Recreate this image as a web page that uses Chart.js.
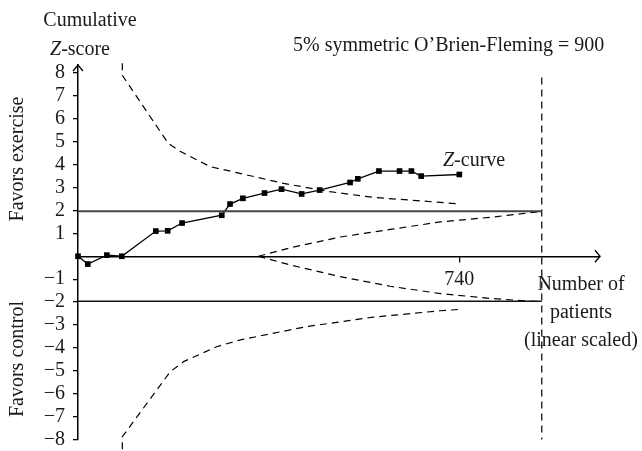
<!DOCTYPE html>
<html><head><meta charset="utf-8">
<script src="https://cdn.jsdelivr.net/npm/chart.js@4/dist/chart.umd.min.js"></script>
<style>html,body{margin:0;padding:0;background:#fff}#wrap{width:642px;height:451px}</style>
</head><body><div id="wrap"><canvas id="c" width="642" height="451"></canvas></div>
<script>
// Cumulative Z-curve (number of patients, cumulative Z-score)
const curvePatients = [0, 19, 56, 85, 151, 174, 202, 279, 295, 320, 362, 395, 434, 469, 528, 543, 584, 624, 647, 666, 740];
const curveZ = [0, -0.34, 0.05, 0.0, 1.10, 1.11, 1.45, 1.79, 2.28, 2.53, 2.76, 2.93, 2.72, 2.89, 3.22, 3.38, 3.72, 3.72, 3.72, 3.50, 3.57];
// O'Brien-Fleming monitoring boundaries
const upperBoundN = [86, 86, 175, 198, 257, 320, 399, 489, 573, 658, 742];
const upperBoundZ = [8.43, 7.9, 4.93, 4.58, 3.91, 3.59, 3.18, 2.82, 2.57, 2.43, 2.28];
const lowerBoundN = [86, 86, 179, 205, 269, 315, 444, 573, 702, 741];
const lowerBoundZ = [-8.43, -7.88, -5.04, -4.6, -3.95, -3.65, -3.07, -2.66, -2.38, -2.32];
// futility wedge
const wedgeUpperN = [350, 412, 509, 606, 703, 800, 900];
const wedgeUpperZ = [0, 0.37, 0.84, 1.17, 1.50, 1.70, 1.96];
const wedgeLowerN = [350, 412, 509, 606, 703, 800, 884, 900];
const wedgeLowerZ = [0, -0.38, -0.89, -1.31, -1.63, -1.84, -1.97, -1.96];
// conventional boundaries and required information size
const conventionalZ = 1.96;
const requiredSize = 900;
const requiredLineZ = [7.8, -8];
const yTickValues = [-8, -7, -6, -5, -4, -3, -2, -1, 1, 2, 3, 4, 5, 6, 7, 8];
const xTickValues = [740];

const pts = (xs, ys) => xs.map((x, i) => ({x: x, y: ys[i]}));
const SERIF = "'Liberation Serif', 'Times New Roman', serif";
const dash = [7, 5];

function lineDs(data, extra) {
  return Object.assign({
    data: data, showLine: true, pointRadius: 0, borderColor: '#000',
    borderWidth: 1.3, fill: false, tension: 0, clip: false
  }, extra || {});
}

const decorations = {
  id: 'decorations',
  afterDraw(chart) {
    const ctx = chart.ctx;
    const xs = chart.scales.x, ys = chart.scales.y;
    const x0 = xs.getPixelForValue(0), y0 = ys.getPixelForValue(0);
    const top = chart.chartArea.top, right = chart.chartArea.right;
    ctx.save();
    ctx.strokeStyle = '#000'; ctx.lineWidth = 1.3;
    ctx.beginPath();
    ctx.moveTo(x0 - 5, top + 6); ctx.lineTo(x0, top); ctx.lineTo(x0 + 5, top + 6);
    ctx.stroke();
    ctx.beginPath();
    ctx.moveTo(right - 5, y0 - 6); ctx.lineTo(right, y0); ctx.lineTo(right - 5, y0 + 6);
    ctx.stroke();

    ctx.fillStyle = '#1a1a1a';
    ctx.font = '20px ' + SERIF;
    ctx.textBaseline = 'alphabetic';
    ctx.textAlign = 'center';
    ctx.fillText('Cumulative', 90, 26);
    ctx.textAlign = 'left';
    ctx.font = 'italic 20px ' + SERIF;
    const zw = ctx.measureText('Z').width;
    ctx.font = '20px ' + SERIF;
    const sw = ctx.measureText('-score').width;
    let sx = 80 - (zw + sw) / 2;
    ctx.font = 'italic 20px ' + SERIF; ctx.fillText('Z', sx, 55);
    ctx.font = '20px ' + SERIF; ctx.fillText('-score', sx + zw, 55);
    ctx.font = 'italic 20px ' + SERIF; ctx.fillText('Z', 443, 166);
    ctx.font = '20px ' + SERIF; ctx.fillText('-curve', 443 + zw, 166);
    ctx.fillText('5% symmetric O\u2019Brien-Fleming = 900', 293, 51);
    ctx.textAlign = 'center';
    ctx.fillText('Number of', 581, 290);
    ctx.fillText('patients', 581, 318);
    ctx.fillText('(linear scaled)', 581, 346);
    ctx.save(); ctx.translate(23, 159); ctx.rotate(-Math.PI / 2);
    ctx.fillText('Favors exercise', 0, 0); ctx.restore();
    ctx.save(); ctx.translate(23, 359); ctx.rotate(-Math.PI / 2);
    ctx.fillText('Favors control', 0, 0); ctx.restore();
    ctx.restore();
  }
};

new Chart(document.getElementById('c'), {
  type: 'scatter',
  data: {
    datasets: [
      lineDs(pts([0, requiredSize], [conventionalZ, conventionalZ]), {borderColor: '#444', borderWidth: 2}),
      lineDs(pts([0, requiredSize], [-conventionalZ, -conventionalZ]), {borderColor: '#111', borderWidth: 1.5}),
      lineDs(pts(upperBoundN, upperBoundZ), {borderDash: dash, borderWidth: 1.2}),
      lineDs(pts(lowerBoundN, lowerBoundZ), {borderDash: dash, borderWidth: 1.2}),
      lineDs(pts(wedgeUpperN, wedgeUpperZ), {borderDash: dash, borderWidth: 1.2}),
      lineDs(pts(wedgeLowerN, wedgeLowerZ), {borderDash: dash, borderWidth: 1.2}),
      lineDs(pts([requiredSize, requiredSize], requiredLineZ), {borderDash: dash, borderWidth: 1.2}),
      lineDs(pts(curvePatients, curveZ), {
        pointRadius: 4, pointStyle: 'rect', pointBackgroundColor: '#000',
        pointBorderColor: '#000', pointBorderWidth: 0, borderWidth: 1.3
      })
    ]
  },
  options: {
    responsive: false, animation: false, devicePixelRatio: 1,
    layout: {padding: {left: 0, right: 42, top: 65, bottom: 11.5}},
    plugins: {legend: {display: false}, tooltip: {enabled: false}},
    scales: {
      x: {
        type: 'linear', min: 0, max: 1013, position: {y: 0},
        afterFit: s => { s.height = 0; s.paddingLeft = 0; s.paddingRight = 0; },
        afterBuildTicks: s => { s.ticks = xTickValues.map(v => ({value: v})); },
        grid: {drawOnChartArea: false, drawTicks: true, tickLength: 5, color: '#000', lineWidth: 1.3},
        border: {display: true, color: '#000', width: 1.5},
        ticks: {color: '#1a1a1a', font: {family: SERIF, size: 20}, padding: 6, maxRotation: 0, autoSkip: false}
      },
      y: {
        type: 'linear', min: -8, max: 8.35, position: 'left',
        afterFit: s => { s.width = 78; s.paddingTop = 0; s.paddingBottom = 0; },
        afterBuildTicks: s => { s.ticks = yTickValues.map(v => ({value: v})); },
        grid: {drawOnChartArea: false, drawTicks: true, tickLength: 5, color: '#000', lineWidth: 1.3},
        border: {display: true, color: '#000', width: 1.5},
        ticks: {
          color: '#1a1a1a', font: {family: SERIF, size: 20}, padding: 8, autoSkip: false,
          callback: v => v < 0 ? '\u2212' + Math.abs(v) : String(v)
        }
      }
    }
  },
  plugins: [decorations]
});
</script></body></html>
